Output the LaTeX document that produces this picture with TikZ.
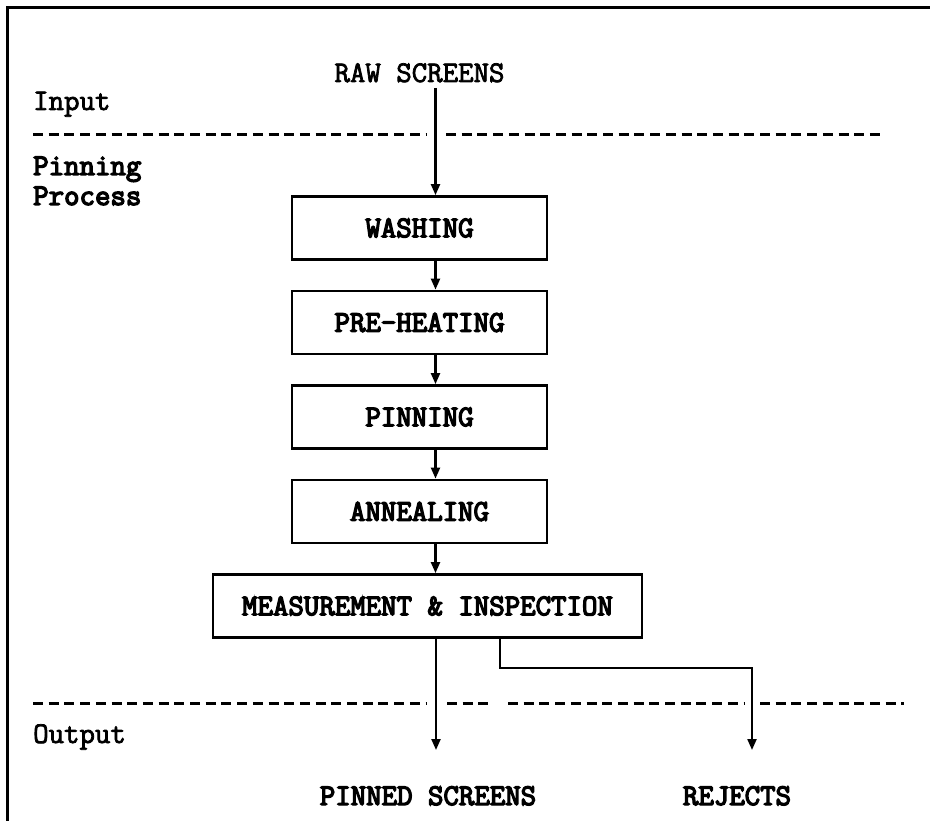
\documentclass[tikz,border=0pt]{standalone}
\usepackage{fontspec}
\usetikzlibrary{arrows.meta}
\newfontfamily\plaintt{Latin Modern Mono}[FakeBold=2.5]
\newfontfamily\heavytt{Latin Modern Mono}[FakeBold=4.5]
\newcommand{\boardsize}{\fontsize{30}{34}\selectfont}
\begin{document}
\begin{tikzpicture}[x=1pt,y=-1pt,
  lbl/.style={font=\plaintt\boardsize, inner sep=0pt},
  blbl/.style={font=\heavytt\boardsize, inner sep=0pt},
  stage/.style={draw, line width=2.8pt, minimum height=63pt, inner sep=0pt,
    font=\heavytt\boardsize},
  flow/.style={line width=2.2pt, -{Triangle[length=11pt,width=9pt]}},
  sep/.style={line width=3pt, dash pattern=on 10pt off 5.7pt},
]
\useasboundingbox (0,0) rectangle (930,821);

% frame (top and left edges)
\draw[line width=3pt] (7,821) -- (7,8) -- (930,8);

% zone labels
\node[lbl, anchor=base west] (input) at (33,110) {Input};
\node[blbl, anchor=base west] (pin1) at (33,175) {Pinning};
\node[blbl, anchor=base west] (pin2) at (33,205) {Process};
\node[lbl, anchor=base west] (output) at (33,743) {Output};

% zone separators
\draw[sep] (33,135) -- (427,135);
\draw[sep] (446,135) -- (884,135);
\draw[sep] (33,703) -- (427,703);
\draw[sep] (447,703) -- (492,703);
\draw[sep] (508,703) -- (745,703);
\draw[sep] (760,703) -- (904,703);

% process stages
\node[lbl, anchor=base] (raw) at (419.5,82) {RAW SCREENS};
\node[stage, minimum width=255pt] (wash) at (419.5,228) {WASHING};
\node[stage, minimum width=255pt] (pre) at (419.5,322.5) {PRE-HEATING};
\node[stage, minimum width=255pt] (pinning) at (419.5,417) {PINNING};
\node[stage, minimum width=255pt] (anneal) at (419.5,511.5) {ANNEALING};
\node[stage, minimum width=429pt] (meas) at (427.5,606) {MEASUREMENT \& INSPECTION};

\node[blbl, anchor=base] (pinned) at (428,805) {PINNED SCREENS};
\node[blbl, anchor=base] (rejects) at (737,805) {REJECTS};

% flow
\coordinate (spine) at (435.5,88);
\coordinate (pinTip) at (436,750);
\coordinate (rejDrop) at (500,668);
\coordinate (rejTip) at (752,750);

\draw[flow] (spine) -- (spine |- wash.north);
\draw[flow] (wash.south -| spine) -- (pre.north -| spine);
\draw[flow] (pre.south -| spine) -- (pinning.north -| spine);
\draw[flow] (pinning.south -| spine) -- (anneal.north -| spine);
\draw[flow] (anneal.south -| spine) -- (meas.north -| spine);
\draw[flow] (meas.south -| pinTip) -- (pinTip);
\draw[flow] (meas.south -| rejDrop) -- (rejDrop) -| (rejTip);
\end{tikzpicture}
\end{document}
